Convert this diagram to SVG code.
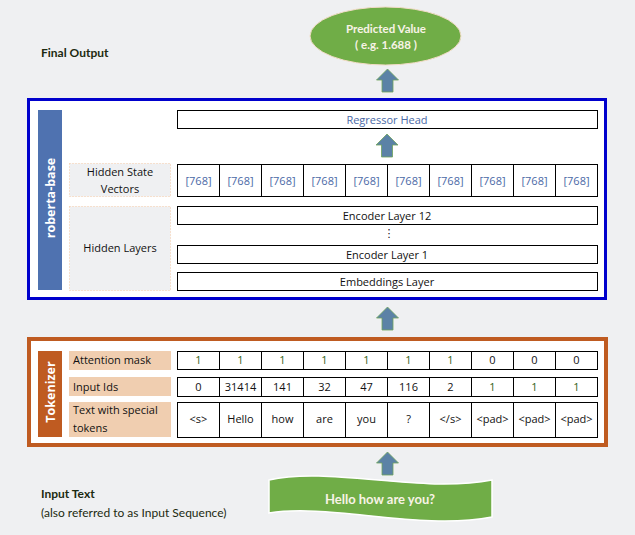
<svg xmlns="http://www.w3.org/2000/svg" xmlns:xlink="http://www.w3.org/1999/xlink" width="635" height="535" viewBox="0 0 635 535">
<defs>
<style>
.cell{fill:#ffffff;stroke:#000000;stroke-width:1}
.div{stroke:#000000;stroke-width:1}
.t{font-family:"Open Sans","Noto Sans","DejaVu Sans",sans-serif;font-size:11px;fill:#111111;text-anchor:middle}
.tl{font-family:"Open Sans","Noto Sans","DejaVu Sans",sans-serif;font-size:11px;fill:#111111}
.blue{fill:#4a69a6}
.grn{fill:#2f5f16}
.cal{font-family:Lato,"Liberation Sans",sans-serif;font-size:12px;fill:#1c2a10}
.calb{font-family:Lato,"Liberation Sans",sans-serif;font-size:12px;font-weight:bold;fill:#1c2a10}
.wt{font-family:Lato,"Liberation Sans",sans-serif;font-weight:bold;fill:#f8f3e6;text-anchor:middle}
.side{font-family:"Open Sans","Noto Sans","DejaVu Sans",sans-serif;font-size:12.5px;font-weight:bold;fill:#ffffff;text-anchor:middle}
.lbl{fill:#eff0f2;stroke:#f4c9a4;stroke-width:1;stroke-dasharray:1 2}
.peach{fill:#f0ceb0}
.arrow{fill:#5b82a6;stroke:#6fa35a;stroke-width:0.8}
</style>
<path id="arr" d="M0,0 L11,11 L5.5,11 L5.5,23 L-5.5,23 L-5.5,11 L-11,11 Z"/>
</defs>
<rect x="0" y="0" width="635" height="535" fill="#eff0f2"/>

<g id="final-output-label"><text class="calb" x="41" y="57">Final Output</text></g>

<g id="predicted-value">
<ellipse cx="385.5" cy="36" rx="75.5" ry="29" fill="#70ad47" stroke="#f2dcc6" stroke-width="1"/>
<text class="wt" x="386" y="33" font-size="11.5">Predicted Value</text>
<text class="wt" x="386" y="49" font-size="11.5">( e.g. 1.688 )</text>
</g>

<g id="roberta-base">
<rect x="28.5" y="99.5" width="577" height="199" fill="#ffffff" stroke="#0000cc" stroke-width="3"/>
<rect x="38" y="110" width="24" height="180" fill="#4f72b0"/>
<text class="side" transform="translate(54.5,198) rotate(-90)">roberta-base</text>
</g>

<g id="regressor-head">
<rect class="cell" x="177.5" y="110.5" width="420" height="18"/>
<text class="t blue" x="387" y="123.5">Regressor Head</text>
</g>

<g id="hidden-state-vectors">
<rect class="lbl" x="69.5" y="163.5" width="101" height="33"/>
<text class="t" x="120" y="176">Hidden State</text>
<text class="t" x="120" y="193">Vectors</text>
<rect class="cell" x="177.5" y="164.5" width="420" height="32"/>
<path class="div" d="M219.5,164.5V196.5M261.5,164.5V196.5M303.5,164.5V196.5M345.5,164.5V196.5M387.5,164.5V196.5M429.5,164.5V196.5M471.5,164.5V196.5M513.5,164.5V196.5M555.5,164.5V196.5"/>
<g class="t blue" font-size="11.5px">
<text x="198.5" y="185">[768]</text><text x="240.5" y="185">[768]</text><text x="282.5" y="185">[768]</text><text x="324.5" y="185">[768]</text><text x="366.5" y="185">[768]</text><text x="408.5" y="185">[768]</text><text x="450.5" y="185">[768]</text><text x="492.5" y="185">[768]</text><text x="534.5" y="185">[768]</text><text x="576.5" y="185">[768]</text>
</g>
</g>

<g id="hidden-layers">
<rect class="lbl" x="69.5" y="206.5" width="101" height="84"/>
<text class="t" x="120" y="252">Hidden Layers</text>
<rect class="cell" x="177.5" y="206.5" width="420" height="18"/>
<text class="t" x="387" y="219.5">Encoder Layer 12</text>
<text class="t" x="389" y="237" font-size="9px">⋮</text>
<rect class="cell" x="177.5" y="245.5" width="420" height="18"/>
<text class="t" x="387" y="258.5">Encoder Layer 1</text>
</g>

<g id="embeddings-layer">
<rect class="cell" x="177.5" y="272.5" width="420" height="18"/>
<text class="t" x="387" y="285.5">Embeddings Layer</text>
</g>

<g id="tokenizer">
<rect x="29" y="339" width="577" height="106" fill="#ffffff" stroke="#bf5b21" stroke-width="4"/>
<rect x="38" y="351" width="24" height="86" fill="#bf5b21"/>
<text class="side" transform="translate(54.5,392) rotate(-90)">Tokenizer</text>
</g>

<g id="attention-mask">
<rect class="peach" x="69" y="351" width="102" height="19"/>
<text class="tl" x="73" y="364">Attention mask</text>
<rect class="cell" x="177.5" y="351.5" width="420" height="18"/>
<path class="div" d="M219.5,351.5V369.5M261.5,351.5V369.5M303.5,351.5V369.5M345.5,351.5V369.5M387.5,351.5V369.5M429.5,351.5V369.5M471.5,351.5V369.5M513.5,351.5V369.5M555.5,351.5V369.5"/>
<g class="t">
<text class="grn" x="198.5" y="364">1</text><text class="grn" x="240.5" y="364">1</text><text class="grn" x="282.5" y="364">1</text><text class="grn" x="324.5" y="364">1</text><text class="grn" x="366.5" y="364">1</text><text class="grn" x="408.5" y="364">1</text><text class="grn" x="450.5" y="364">1</text><text x="492.5" y="364">0</text><text x="534.5" y="364">0</text><text x="576.5" y="364">0</text>
</g>
</g>

<g id="input-ids">
<rect class="peach" x="69" y="377" width="102" height="19"/>
<text class="tl" x="73" y="391">Input Ids</text>
<rect class="cell" x="177.5" y="377.5" width="420" height="19"/>
<path class="div" d="M219.5,377.5V396.5M261.5,377.5V396.5M303.5,377.5V396.5M345.5,377.5V396.5M387.5,377.5V396.5M429.5,377.5V396.5M471.5,377.5V396.5M513.5,377.5V396.5M555.5,377.5V396.5"/>
<g class="t">
<text x="198.5" y="391">0</text><text x="240.5" y="391">31414</text><text x="282.5" y="391">141</text><text x="324.5" y="391">32</text><text x="366.5" y="391">47</text><text x="408.5" y="391">116</text><text x="450.5" y="391">2</text><text class="grn" x="492.5" y="391">1</text><text class="grn" x="534.5" y="391">1</text><text class="grn" x="576.5" y="391">1</text>
</g>
</g>

<g id="text-with-special-tokens">
<rect class="peach" x="69" y="402" width="102" height="35"/>
<text class="tl" x="73" y="414">Text with special</text>
<text class="tl" x="73" y="432">tokens</text>
<rect class="cell" x="177.5" y="402.5" width="420" height="35"/>
<path class="div" d="M219.5,402.5V437.5M261.5,402.5V437.5M303.5,402.5V437.5M345.5,402.5V437.5M387.5,402.5V437.5M429.5,402.5V437.5M471.5,402.5V437.5M513.5,402.5V437.5M555.5,402.5V437.5"/>
<g class="t" font-size="10.5px">
<text x="198.5" y="423">&lt;s&gt;</text><text x="240.5" y="423">Hello</text><text x="282.5" y="423">how</text><text x="324.5" y="423">are</text><text x="366.5" y="423">you</text><text x="408.5" y="423">?</text><text x="450.5" y="423">&lt;/s&gt;</text><text x="492.5" y="423">&lt;pad&gt;</text><text x="534.5" y="423">&lt;pad&gt;</text><text x="576.5" y="423">&lt;pad&gt;</text>
</g>
</g>

<g id="input-text">
<path d="M269,480 C330,466 420,494 492,480 L492,517 C420,531 330,503 269,513 Z" fill="#70ad47" stroke="#ffffff" stroke-width="1.5"/>
<text class="wt" x="380" y="504" font-size="13px">Hello how are you?</text>
</g>

<g id="input-text-label">
<text class="calb" x="41" y="498">Input Text</text>
<text class="cal" x="41" y="517" fill="#333333">(also referred to as Input Sequence)</text>
</g>

<g id="connectors">
<use href="#arr" xlink:href="#arr" class="arrow" x="387.5" y="69"/>
<use href="#arr" xlink:href="#arr" class="arrow" x="387" y="134"/>
<use href="#arr" xlink:href="#arr" class="arrow" x="387.5" y="307"/>
<use href="#arr" xlink:href="#arr" class="arrow" x="387.5" y="452"/>
</g>
</svg>
